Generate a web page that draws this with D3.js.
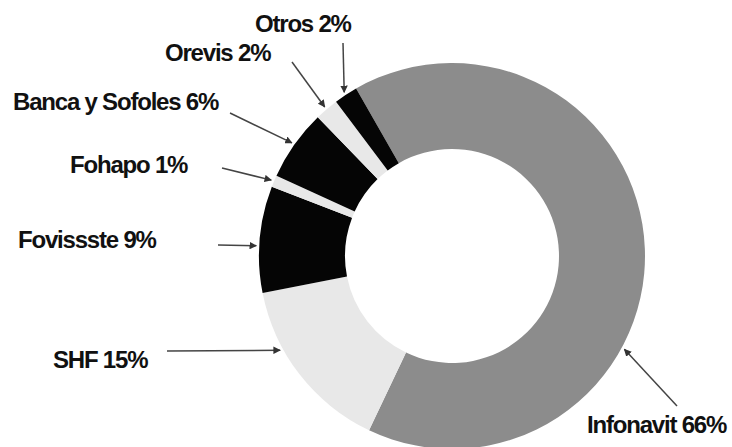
<!DOCTYPE html>
<html>
<head>
<meta charset="utf-8">
<script src="https://cdn.jsdelivr.net/npm/d3@7"></script>
<style>
  body { margin: 0; background: #fff; }
  svg { display: block; }
  .lbl { font-family: "Liberation Sans", Arial, sans-serif; font-weight: bold; font-size: 24px; letter-spacing: -1.2px; fill: #111; }
</style>
</head>
<body>
<div id="chart"></div>
<script>
// data
var categories = ["Infonavit", "SHF", "Fovissste", "Fohapo", "Banca y Sofoles", "Orevis", "Otros"];
var shares = [66, 15, 9, 1, 6, 2, 2];
var colors = ["#8c8c8c", "#e8e8e8", "#050505", "#e8e8e8", "#050505", "#e8e8e8", "#050505"];

// label layout: text anchor, arrow tail, and where along the slice the arrow points
var labelLayout = [
  { x: 587, y: 433, tail: [677, 406], t: 0.63 },
  { x: 53,  y: 368, tail: [167, 351], t: 0.67 },
  { x: 18,  y: 248, tail: [218, 245], t: 0.44 },
  { x: 70,  y: 173, tail: [222, 168], t: 0.5 },
  { x: 13,  y: 110, tail: [230, 113], t: 0.5 },
  { x: 165, y: 61,  tail: [292, 62],  t: 0.5 },
  { x: 255, y: 32,  tail: [343, 43],  t: 0.5 }
];

var width = 732, height = 447;
var cx = 452, cy = 256;
var rOuter = 193, rInner = 107;
var startDeg = -29.8;

var svg = d3.select("#chart").append("svg")
  .attr("width", width)
  .attr("height", height);

svg.append("defs").append("marker")
  .attr("id", "head")
  .attr("viewBox", "0 0 10 10")
  .attr("refX", 9)
  .attr("refY", 5)
  .attr("markerWidth", 5)
  .attr("markerHeight", 5)
  .attr("markerUnits", "strokeWidth")
  .attr("orient", "auto")
  .append("path")
  .attr("d", "M0,0L10,5L0,10Z")
  .attr("fill", "#333");

var pie = d3.pie()
  .sort(null)
  .value(function(d) { return d; })
  .startAngle(startDeg * Math.PI / 180)
  .endAngle((startDeg + 360) * Math.PI / 180);

var arcs = pie(shares);

var arc = d3.arc()
  .innerRadius(rInner)
  .outerRadius(rOuter);

var g = svg.append("g").attr("transform", "translate(" + cx + "," + cy + ")");

g.selectAll("path.slice")
  .data(arcs)
  .enter().append("path")
  .attr("class", "slice")
  .attr("d", arc)
  .attr("fill", function(d, i) { return colors[i]; });

// arrows
svg.selectAll("line.arrow")
  .data(arcs)
  .enter().append("line")
  .attr("class", "arrow")
  .attr("x1", function(d, i) { return labelLayout[i].tail[0]; })
  .attr("y1", function(d, i) { return labelLayout[i].tail[1]; })
  .attr("x2", function(d, i) {
    var a = d.startAngle + (d.endAngle - d.startAngle) * labelLayout[i].t;
    return cx + (rOuter + 3) * Math.sin(a);
  })
  .attr("y2", function(d, i) {
    var a = d.startAngle + (d.endAngle - d.startAngle) * labelLayout[i].t;
    return cy - (rOuter + 3) * Math.cos(a);
  })
  .attr("stroke", "#444")
  .attr("stroke-width", 1.5)
  .attr("marker-end", "url(#head)");

// labels
svg.selectAll("text.lbl")
  .data(categories)
  .enter().append("text")
  .attr("class", "lbl")
  .attr("x", function(d, i) { return labelLayout[i].x; })
  .attr("y", function(d, i) { return labelLayout[i].y; })
  .text(function(d, i) { return d + " " + shares[i] + "%"; });
</script>
</body>
</html>
